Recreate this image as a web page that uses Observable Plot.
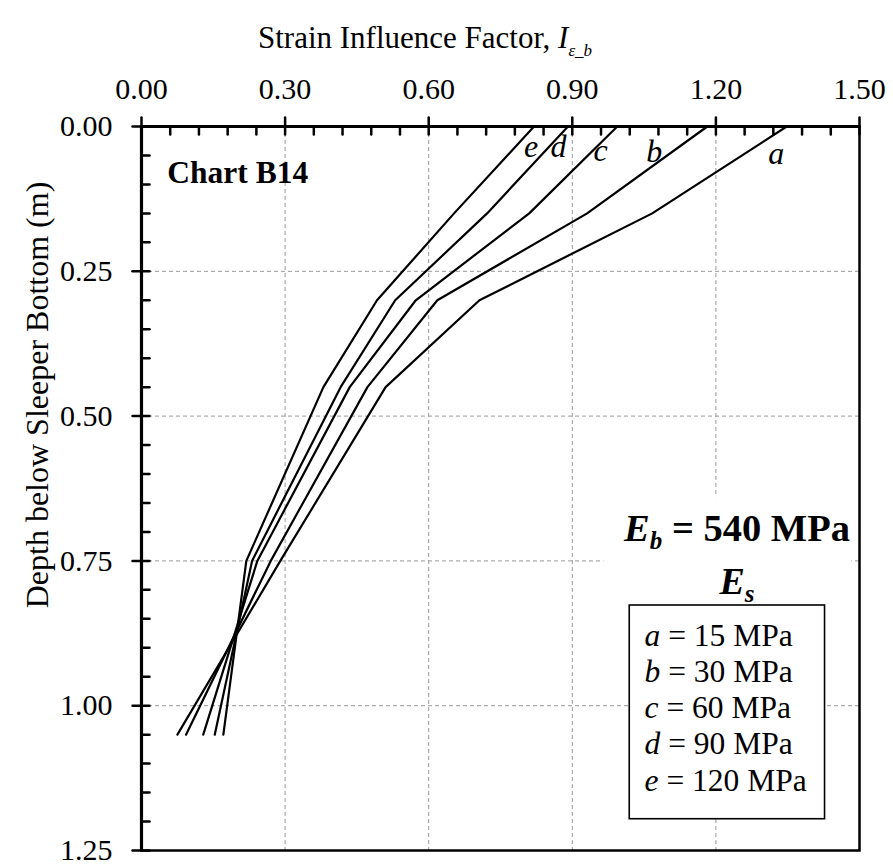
<!DOCTYPE html>
<html><head><meta charset="utf-8">
<script src="https://cdn.jsdelivr.net/npm/d3@7"></script>
<script src="https://cdn.jsdelivr.net/npm/@observablehq/plot@0.6"></script>
<style>html,body{margin:0;padding:0;background:#fff} svg{display:block}</style>
</head><body><div id="chart"></div>
<script>
// ---- data ----
const depth = [0, 0.15, 0.30, 0.45, 0.75, 1.05];
const seriesNames = ["a", "b", "c", "d", "e"];
const seriesEs = [15, 30, 60, 90, 120];
const curveA = [1.348, 1.067, 0.706, 0.510, 0.290, 0.075];
const curveB = [1.182, 0.931, 0.618, 0.472, 0.270, 0.093];
const curveC = [0.994, 0.810, 0.573, 0.435, 0.242, 0.129];
const curveD = [0.891, 0.722, 0.530, 0.416, 0.231, 0.153];
const curveE = [0.820, 0.653, 0.492, 0.380, 0.219, 0.171];
const curves = [curveA, curveB, curveC, curveD, curveE];
const xTicks = [0, 0.3, 0.6, 0.9, 1.2, 1.5];
const yTicks = [0, 0.25, 0.5, 0.75, 1.0, 1.25];
const xMinor = [0.06,0.12,0.18,0.24,0.36,0.42,0.48,0.54,0.66,0.72,0.78,0.84,0.96,1.02,1.08,1.14,1.26,1.32,1.38,1.44];
const yMinor = [0.05,0.10,0.15,0.20,0.30,0.35,0.40,0.45,0.55,0.60,0.65,0.70,0.80,0.85,0.90,0.95,1.05,1.10,1.15,1.20];
const gridX = [0.3, 0.6, 0.9, 1.2];
const gridY = [0.25, 0.5, 0.75, 1.0];
// curve letter label anchors (data units, baseline)
const labelX = [1.326, 1.071, 0.959, 0.871, 0.814];
const labelY = [0.064, 0.062, 0.059, 0.052, 0.053];

const rows = [];
curves.forEach((c, k) => c.forEach((v, i) => rows.push({series: seriesNames[k], x: v, depth: depth[i]})));
const labels = seriesNames.map((s, k) => ({text: s, x: labelX[k], y: labelY[k]}));

const FONT = "Liberation Serif, Times New Roman, serif";
const FS = 30;
const tickShape = {draw(ctx, l) { ctx.moveTo(0, 0); ctx.lineTo(0, -l); }};
const dash = {stroke: "#999", strokeWidth: 1, strokeDasharray: "4,3"};

const chart = Plot.plot({
  width: 893, height: 868,
  marginLeft: 141, marginRight: 34, marginTop: 126, marginBottom: 18,
  style: {fontFamily: FONT, fontSize: FS + "px", color: "black", background: "white"},
  x: {domain: [0, 1.5]},
  y: {domain: [0, 1.25], reverse: true},
  marks: [
    Plot.ruleX(gridX, {x: d => d, ...dash}),
    Plot.ruleY(gridY, {y: d => d, ...dash}),
    // white backing behind E_b / E_s annotations
    Plot.rect([{x1: 0.966, x2: 1.484, y1: 0.641, y2: 0.83}], {x1: "x1", x2: "x2", y1: "y1", y2: "y2", fill: "white"}),
    // legend box
    Plot.rect([{x1: 1.020, x2: 1.428, y1: 0.827, y2: 1.196}], {x1: "x1", x2: "x2", y1: "y1", y2: "y2", fill: "white", stroke: "black", strokeWidth: 1.6}),
    Plot.line(rows, {x: "x", y: "depth", z: "series", stroke: "black", strokeWidth: 2.2}),
    Plot.text(labels, {x: "x", y: "y", text: "text", fontStyle: "italic", lineAnchor: "bottom", fontSize: 32}),
    Plot.text(["Chart B14"], {x: () => 0.054, y: () => 0.098, text: d => d, fontWeight: "bold", textAnchor: "start", lineAnchor: "bottom", fontSize: 31.5}),
    Plot.frame({stroke: "black", strokeWidth: 2.5}),
    Plot.ruleY([0], {y: d => d, stroke: "black", strokeWidth: 3.2}),
    Plot.ruleX([0], {x: d => d, stroke: "black", strokeWidth: 3.2}),
    // ticks on top axis
    Plot.vector(xTicks, {x: d => d, y: () => 0, length: 9, rotate: 0, anchor: "start", shape: tickShape, stroke: "black", strokeWidth: 2.5}),
    Plot.vector(xTicks.concat(xMinor), {x: d => d, y: () => 0, length: 8, rotate: 180, anchor: "start", shape: tickShape, stroke: "black", strokeWidth: 2.5}),
    // ticks on left axis
    Plot.vector(yTicks, {y: d => d, x: () => 0, length: 9, rotate: 270, anchor: "start", shape: tickShape, stroke: "black", strokeWidth: 2.5}),
    Plot.vector(yTicks.concat(yMinor), {y: d => d, x: () => 0, length: 8, rotate: 90, anchor: "start", shape: tickShape, stroke: "black", strokeWidth: 2.5}),
    Plot.axisX({anchor: "top", ticks: xTicks, tickFormat: d3.format(".2f"), tickSize: 0, tickPadding: 28, label: null, fontSize: FS}),
    Plot.axisY({anchor: "left", ticks: yTicks, tickFormat: d3.format(".2f"), tickSize: 0, tickPadding: 29, label: null, fontSize: FS})
  ]
});
document.getElementById("chart").appendChild(chart);

// ---- rich-text annotations (subscripts / italics) ----
const sx = chart.scale("x"), sy = chart.scale("y");
const svg = d3.select(chart);
const g = svg.append("g").attr("font-family", FONT).attr("fill", "black");

// top axis title
const t = g.append("text").attr("x", 258).attr("y", 48)
  .attr("text-anchor", "start").attr("font-size", 31);
t.append("tspan").text("Strain Influence Factor, ");
t.append("tspan").attr("font-style", "italic").text("I");
t.append("tspan").attr("font-style", "italic").attr("font-size", 17).attr("dy", 8).text("ε_b");

// left axis title
g.append("text").attr("transform", `translate(38,395) rotate(-90)`)
  .attr("text-anchor", "middle").attr("dy", "0.32em").attr("font-size", 32)
  .text("Depth below Sleeper Bottom (m)");

// E_b annotation
const cx = 737;
const eb = g.append("text").attr("x", cx).attr("y", 541).attr("text-anchor", "middle")
  .attr("font-size", 38.5).attr("font-weight", "bold");
eb.append("tspan").attr("font-style", "italic").text("E");
eb.append("tspan").attr("font-style", "italic").attr("font-size", 25).attr("dy", 8).text("b");
eb.append("tspan").attr("dy", -8).text(" = 540 MPa");

const es = g.append("text").attr("x", cx).attr("y", 594).attr("text-anchor", "middle")
  .attr("font-size", 38).attr("font-weight", "bold");
es.append("tspan").attr("font-style", "italic").text("E");
es.append("tspan").attr("font-style", "italic").attr("font-size", 25).attr("dy", 8).text("s");

// legend entries
seriesNames.forEach((s, k) => {
  const tx = g.append("text").attr("x", sx.apply(1.052)).attr("y", sy.apply(0.880 + k * 0.0625))
    .attr("dy", "0.32em").attr("font-size", 31.5).attr("text-anchor", "start");
  tx.append("tspan").attr("font-style", "italic").text(s);
  tx.append("tspan").text(` = ${seriesEs[k]} MPa`);
});
</script>
</body></html>
